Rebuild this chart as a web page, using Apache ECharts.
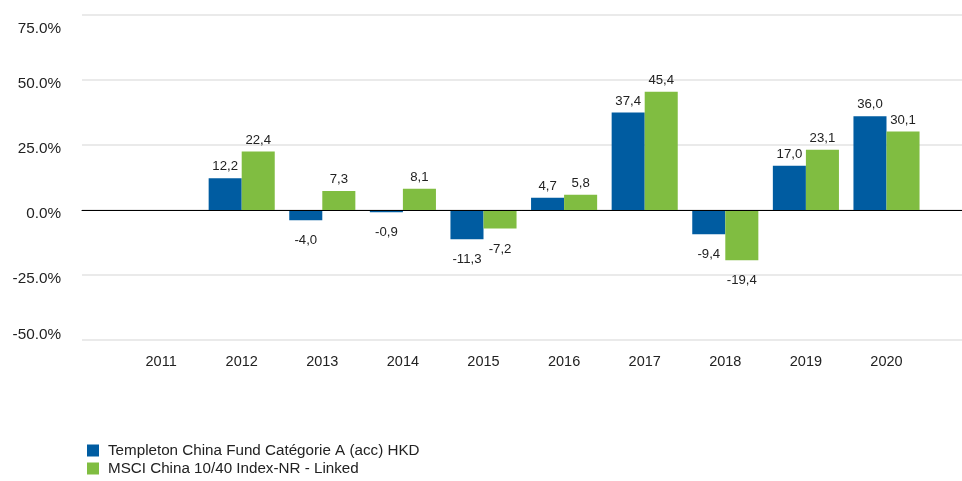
<!DOCTYPE html>
<html>
<head>
<meta charset="utf-8">
<script src="https://cdn.jsdelivr.net/npm/echarts@6/dist/echarts.min.js"></script>
<style>
  html, body { margin: 0; padding: 0; background: #fff; }
  #chart { width: 962px; height: 481px; }
</style>
</head>
<body>
<div id="chart"></div>
<script>
// données
var years = ['2011', '2012', '2013', '2014', '2015', '2016', '2017', '2018', '2019', '2020'];
var fundValues = [null, 12.2, -4.0, -0.9, -11.3, 4.7, 37.4, -9.4, 17.0, 36.0];
var indexValues = [null, 22.4, 7.3, 8.1, -7.2, 5.8, 45.4, -19.4, 23.1, 30.1];
var seriesNames = ['Templeton China Fund Catégorie A (acc) HKD', 'MSCI China 10/40 Index-NR - Linked'];

var FONT = '"Liberation Sans", Arial, sans-serif';

function toItems(values) {
    return values.map(function (v) {
        if (v === null) return null;
        return {
            value: v,
            label: {
                position: v < 0 ? 'bottom' : 'top',
                distance: v < 0 ? 14 : 5
            }
        };
    });
}

function legendFor(name, top) {
    return {
        left: 82,
        top: top,
        itemWidth: 12,
        itemHeight: 12,
        icon: 'rect',
        textStyle: { fontSize: 15.2, color: '#222', fontFamily: FONT, padding: [0, 0, 0, 4] },
        data: [name]
    };
}

(function(){

var chart = echarts.init(document.getElementById('chart'));

var option = {
    animation: false,
    color: ['#005CA1', '#80BD41'],
    textStyle: { fontFamily: FONT },
    legend: [
        legendFor(seriesNames[0], 438),
        legendFor(seriesNames[1], 456)
    ],
    grid: [
        // grille large : lignes horizontales + libellés de l'axe Y
        { left: 82, right: 0, top: 14.7, height: 325.3 },
        // grille des barres
        { left: 120.8, width: 806, top: 14.7, height: 325.3 }
    ],
    xAxis: [
        {
            type: 'value', gridIndex: 0, min: 0, max: 1,
            z: 5,
            axisLine: { show: true, onZero: true, lineStyle: { color: '#000', width: 1 } },
            axisTick: { show: false },
            axisLabel: { show: false },
            splitLine: { show: false }
        },
        {
            type: 'category', gridIndex: 1,
            data: years,
            axisLine: { show: false, onZero: false },
            axisTick: { show: false },
            axisLabel: { fontSize: 14.5, color: '#222', margin: 14, fontFamily: FONT },
            splitLine: { show: false }
        }
    ],
    yAxis: [
        {
            type: 'value', gridIndex: 0,
            min: -50, max: 75, interval: 25,
            axisLine: { show: false },
            axisTick: { show: false },
            axisLabel: {
                color: '#222', margin: 21,
                formatter: function (v) {
                    var s = v.toFixed(1) + '%';
                    if (v === 75) return '{top|' + s + '}';
                    if (v === -50) return '{bot|' + s + '}';
                    return '{mid|' + s + '}';
                },
                rich: {
                    top: { fontSize: 15.3, fontFamily: FONT, color: '#222', padding: [28, 0, 0, 0] },
                    mid: { fontSize: 15.3, fontFamily: FONT, color: '#222', padding: [8, 0, 0, 0] },
                    bot: { fontSize: 15.3, fontFamily: FONT, color: '#222', padding: [0, 0, 10, 0] }
                }
            },
            splitLine: { lineStyle: { color: '#e3e3e3', width: 1.5 } }
        },
        {
            type: 'value', gridIndex: 1,
            min: -50, max: 75, interval: 25,
            show: false,
            splitLine: { show: false }
        }
    ],
    series: [
        {
            name: seriesNames[0],
            type: 'bar',
            xAxisIndex: 1,
            yAxisIndex: 1,
            barGap: '0%',
            barCategoryGap: '18%',
            label: {
                show: true,
                fontSize: 13.2,
                color: '#222',
                fontFamily: FONT,
                formatter: function (p) { return p.value.toFixed(1).replace('.', ','); }
            },
            data: toItems(fundValues)
        },
        {
            name: seriesNames[1],
            type: 'bar',
            xAxisIndex: 1,
            yAxisIndex: 1,
            barGap: '0%',
            barCategoryGap: '18%',
            label: {
                show: true,
                fontSize: 13.2,
                color: '#222',
                fontFamily: FONT,
                formatter: function (p) { return p.value.toFixed(1).replace('.', ','); }
            },
            data: toItems(indexValues)
        }
    ]
};

chart.setOption(option);
})();
</script>
</body>
</html>
